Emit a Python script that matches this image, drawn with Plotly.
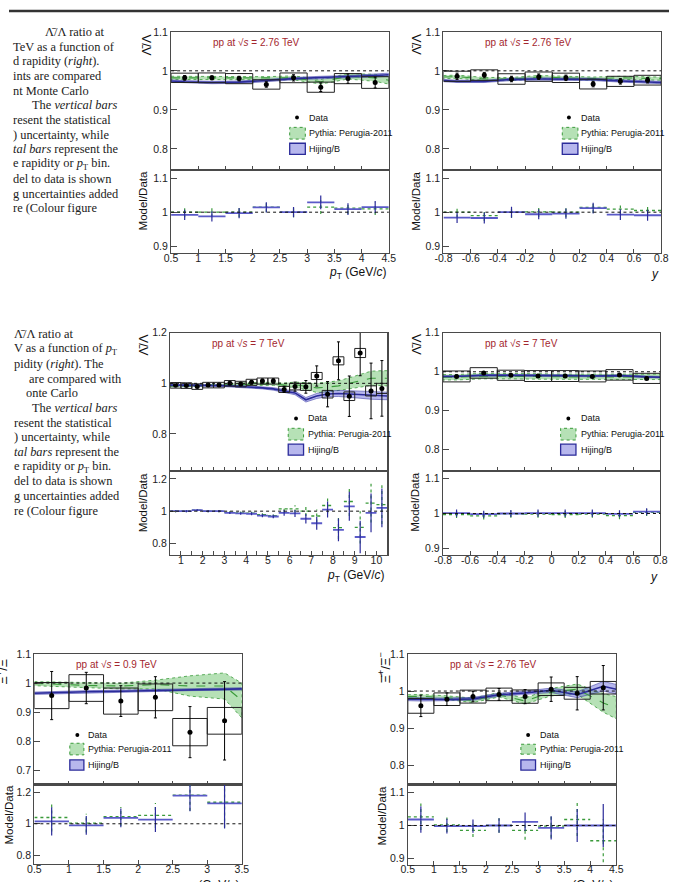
import plotly.graph_objects as go

W, H = 676, 882

# ---------------- data ----------------
# Panel A: anti-Lambda/Lambda vs pT, pp 2.76 TeV
A_edges = [0.5, 1.0, 1.5, 2.0, 2.5, 3.0, 3.5, 4.0, 4.5]
A_data = [0.982, 0.982, 0.980, 0.965, 0.982, 0.958, 0.980, 0.970]
A_stat = [0.006, 0.005, 0.006, 0.007, 0.008, 0.011, 0.012, 0.014]
A_sys = [0.012, 0.0125, 0.013, 0.012, 0.0125, 0.013, 0.013, 0.015]
A_mx = [0.5, 0.75, 1.25, 1.75, 2.25, 2.75, 3.25, 3.75, 4.25, 4.5]
A_py = [0.982, 0.982, 0.981, 0.981, 0.981, 0.982, 0.972, 0.986, 0.982, 0.976]
A_py_err = [0.004, 0.004, 0.004, 0.004, 0.004, 0.005, 0.006, 0.007, 0.009, 0.010]
A_hj = [0.974, 0.972, 0.970, 0.971, 0.975, 0.980, 0.983, 0.985, 0.988, 0.990]
A_hj_err = [0.003, 0.003, 0.003, 0.003, 0.003, 0.003, 0.003, 0.003, 0.004, 0.004]
A_r_hj = [0.992, 0.988, 0.997, 1.014, 1.000, 1.029, 1.009, 1.015]
A_r_py = [1.000, 1.000, 1.000, 1.015, 1.000, 1.015, 1.012, 1.010]
A_r_err = [0.015, 0.015, 0.015, 0.015, 0.015, 0.020, 0.017, 0.018]

# Panel B: anti-Lambda/Lambda vs y, pp 2.76 TeV
B_edges = [-0.8, -0.6, -0.4, -0.2, 0.0, 0.2, 0.4, 0.6, 0.8]
B_data = [0.986, 0.989, 0.979, 0.985, 0.982, 0.966, 0.973, 0.976]
B_stat = [0.008, 0.007, 0.007, 0.007, 0.007, 0.007, 0.007, 0.007]
B_sys = [0.013, 0.0135, 0.0135, 0.012, 0.012, 0.0125, 0.013, 0.0125]
B_mx = [-0.8, -0.7, -0.5, -0.3, -0.1, 0.1, 0.3, 0.5, 0.7, 0.8]
B_py = [0.984, 0.985, 0.979, 0.979, 0.984, 0.982, 0.980, 0.982, 0.981, 0.980]
B_py_err = [0.004, 0.004, 0.004, 0.004, 0.004, 0.004, 0.004, 0.004, 0.004, 0.004]
B_hj = [0.975, 0.973, 0.973, 0.978, 0.979, 0.979, 0.978, 0.974, 0.971, 0.970]
B_hj_err = [0.003, 0.003, 0.003, 0.003, 0.003, 0.003, 0.003, 0.003, 0.003, 0.003]
B_r_hj = [0.984, 0.983, 1.000, 0.994, 0.996, 1.012, 0.993, 0.991]
B_r_py = [1.000, 0.990, 1.000, 1.001, 1.000, 1.014, 1.009, 1.005]
B_r_err = [0.016, 0.016, 0.016, 0.015, 0.015, 0.016, 0.016, 0.016]

# Panel C: anti-Lambda/Lambda vs pT, pp 7 TeV
C_edges = [0.5, 1.0, 1.5, 2.0, 2.5, 3.0, 3.5, 4.0, 4.5, 5.0, 5.5,
           6.0, 6.5, 7.0, 7.5, 8.0, 8.5, 9.0, 9.5, 10.0, 10.5]
C_data = [0.992, 0.991, 0.987, 0.993, 0.993, 1.000, 0.997, 1.004, 1.009, 1.009,
          0.976, 0.987, 0.986, 1.029, 0.957, 1.089, 0.949, 1.120, 0.970, 0.980]
C_stat = [0.004, 0.004, 0.004, 0.004, 0.005, 0.005, 0.006, 0.007, 0.008, 0.009,
          0.012, 0.018, 0.025, 0.040, 0.050, 0.075, 0.080, 0.090, 0.110, 0.110]
C_sys = [0.011, 0.011, 0.011, 0.011, 0.011, 0.011, 0.011, 0.012, 0.012, 0.012,
         0.012, 0.013, 0.014, 0.014, 0.015, 0.016, 0.017, 0.018, 0.020, 0.020]
C_mx = [0.5, 0.75, 1.25, 1.75, 2.25, 2.75, 3.25, 3.75, 4.25, 4.75, 5.25, 5.75,
        6.25, 6.75, 7.25, 7.75, 8.25, 8.75, 9.25, 9.75, 10.25, 10.5]
C_py = [0.990, 0.990, 0.990, 0.991, 0.993, 0.994, 0.996, 0.997, 0.998, 0.998, 0.998,
        0.993, 0.995, 0.988, 0.982, 0.985, 0.990, 1.000, 1.010, 1.020, 1.020, 1.020]
C_py_err = [0.003, 0.003, 0.003, 0.003, 0.003, 0.004, 0.004, 0.005, 0.005, 0.006, 0.006,
            0.008, 0.010, 0.014, 0.018, 0.020, 0.020, 0.022, 0.025, 0.028, 0.030, 0.030]
C_hj = [0.993, 0.993, 0.993, 0.992, 0.992, 0.991, 0.990, 0.988, 0.985, 0.982, 0.978,
        0.970, 0.962, 0.935, 0.950, 0.958, 0.960, 0.958, 0.955, 0.952, 0.950, 0.950]
C_hj_err = [0.003, 0.003, 0.003, 0.003, 0.003, 0.003, 0.003, 0.004, 0.004, 0.004, 0.005,
            0.006, 0.007, 0.009, 0.010, 0.011, 0.012, 0.013, 0.014, 0.015, 0.015, 0.015]
C_r_hj = [1.000, 1.000, 1.006, 1.000, 1.000, 0.990, 0.986, 0.984, 0.973, 0.967,
          0.990, 0.986, 0.953, 0.925, 1.010, 0.884, 1.030, 0.840, 0.990, 1.020]
C_r_py = [1.000, 1.000, 1.006, 1.000, 1.000, 0.993, 0.990, 0.988, 0.978, 0.972,
          1.014, 1.014, 1.000, 0.970, 1.035, 0.898, 1.060, 0.900, 1.050, 1.040]
C_r_err = [0.006, 0.006, 0.006, 0.006, 0.007, 0.007, 0.008, 0.009, 0.010, 0.011,
           0.018, 0.022, 0.030, 0.040, 0.050, 0.070, 0.090, 0.100, 0.120, 0.120]

# Panel D: anti-Lambda/Lambda vs y, pp 7 TeV
D_edges = [-0.8, -0.6, -0.4, -0.2, 0.0, 0.2, 0.4, 0.6, 0.8]
D_data = [0.988, 0.997, 0.991, 0.989, 0.989, 0.988, 0.992, 0.983]
D_stat = [0.003, 0.003, 0.003, 0.003, 0.003, 0.003, 0.003, 0.003]
D_sys = [0.014, 0.0135, 0.013, 0.014, 0.014, 0.014, 0.0135, 0.013]
D_mx = [-0.8, -0.7, -0.5, -0.3, -0.1, 0.1, 0.3, 0.5, 0.7, 0.8]
D_py = [0.986, 0.986, 0.989, 0.989, 0.988, 0.987, 0.987, 0.987, 0.987, 0.987]
D_py_err = [0.007, 0.007, 0.007, 0.007, 0.007, 0.007, 0.007, 0.007, 0.007, 0.007]
D_hj = [0.988, 0.988, 0.991, 0.991, 0.990, 0.990, 0.989, 0.990, 0.987, 0.986]
D_hj_err = [0.002, 0.002, 0.002, 0.002, 0.002, 0.002, 0.002, 0.002, 0.002, 0.002]
D_r_hj = [1.001, 0.998, 1.000, 1.001, 1.001, 1.001, 0.999, 1.005]
D_r_py = [0.997, 0.993, 0.998, 0.998, 0.997, 0.998, 0.994, 1.003]
D_r_err = [0.010, 0.010, 0.010, 0.010, 0.010, 0.010, 0.010, 0.010]

# Panel E: Xi+/Xi- vs pT, pp 0.9 TeV
E_edges = [0.5, 1.0, 1.5, 2.0, 2.5, 3.0, 3.5]
E_data = [0.957, 0.983, 0.938, 0.951, 0.831, 0.870]
E_stat = [0.083, 0.054, 0.053, 0.071, 0.088, 0.135]
E_sys = [0.045, 0.046, 0.045, 0.046, 0.047, 0.046]
E_mx = [0.5, 0.75, 1.25, 1.75, 2.25, 2.75, 3.25, 3.5]
E_py = [0.998, 0.997, 0.992, 0.990, 0.995, 0.990, 0.990, 0.940]
E_py_err = [0.007, 0.007, 0.008, 0.010, 0.015, 0.035, 0.045, 0.060]
E_hj = [0.965, 0.967, 0.970, 0.972, 0.975, 0.978, 0.980, 0.980]
E_hj_err = [0.004, 0.004, 0.004, 0.004, 0.004, 0.004, 0.004, 0.004]
E_r_hj = [1.015, 0.990, 1.038, 1.027, 1.179, 1.130]
E_r_py = [1.040, 1.004, 1.046, 1.053, 1.183, 1.137]
E_r_err = [0.090, 0.060, 0.060, 0.080, 0.100, 0.160]

# Panel F: Xi+/Xi- vs pT, pp 2.76 TeV
F_edges = [0.5, 1.0, 1.5, 2.0, 2.5, 3.0, 3.5, 4.0, 4.5]
F_data = [0.960, 0.978, 0.985, 0.991, 0.985, 1.005, 0.994, 1.009]
F_stat = [0.029, 0.017, 0.014, 0.016, 0.019, 0.033, 0.045, 0.060]
F_sys = [0.020, 0.017, 0.0175, 0.017, 0.018, 0.017, 0.016, 0.017]
F_mx = [0.5, 0.75, 1.25, 1.75, 2.25, 2.75, 3.25, 3.75, 4.25, 4.5]
F_py = [0.985, 0.986, 0.982, 0.975, 0.990, 0.973, 0.997, 1.005, 0.968, 0.955]
F_py_err = [0.005, 0.005, 0.005, 0.006, 0.006, 0.008, 0.010, 0.014, 0.025, 0.030]
F_hj = [0.978, 0.977, 0.977, 0.979, 0.990, 0.995, 1.002, 0.990, 1.013, 1.005]
F_hj_err = [0.004, 0.004, 0.004, 0.004, 0.004, 0.005, 0.006, 0.008, 0.013, 0.013]
F_r_hj = [1.018, 0.998, 0.998, 1.000, 1.011, 0.993, 1.000, 1.000]
F_r_py = [1.026, 1.002, 0.985, 1.000, 0.985, 0.998, 1.018, 0.954]
F_r_err = [0.040, 0.022, 0.020, 0.022, 0.028, 0.035, 0.050, 0.065]

# tick labels
pt45_ticks = [0.5, 1, 1.5, 2, 2.5, 3, 3.5, 4, 4.5]
pt45_text = ["0.5", "1", "1.5", "2", "2.5", "3", "3.5", "4", "4.5"]
pt35_ticks = [0.5, 1, 1.5, 2, 2.5, 3, 3.5]
pt35_text = ["0.5", "1", "1.5", "2", "2.5", "3", "3.5"]
y_ticks = [-0.8, -0.6, -0.4, -0.2, 0, 0.2, 0.4, 0.6, 0.8]
y_text = ["-0.8", "-0.6", "-0.4", "-0.2", "0", "0.2", "0.4", "0.6", "0.8"]

energies = {"A": "2.76", "B": "2.76", "C": "7", "D": "7", "E": "0.9", "F": "2.76"}

caption1 = ["\u039b\u0304/\u039b ratio at", "TeV as a function of",
            "d rapidity (<i>right</i>).", "ints are compared", "nt Monte Carlo",
            "The <i>vertical bars</i>", "resent the statistical",
            ") uncertainty, while", "<i>tal bars</i> represent the",
            "e rapidity or <i>p</i><sub>T</sub> bin.", "del to data is shown",
            "g uncertainties added", "re (Colour figure"]
caption2 = ["\u039b\u0304/\u039b ratio at", "V as a function of <i>p</i><sub>T</sub>",
            "pidity (<i>right</i>). The", "are compared with", "onte Carlo",
            "The <i>vertical bars</i>", "resent the statistical",
            ") uncertainty, while", "<i>tal bars</i> represent the",
            "e rapidity or <i>p</i><sub>T</sub> bin.", "del to data is shown",
            "g uncertainties added", "re (Colour figure"]

# ---------------- styling / geometry ----------------
FONT = "Liberation Sans, Arial, sans-serif"
SERIF = "Liberation Serif, Times New Roman, serif"
AXC = "#4a4a4a"
BLUE_LINE = "#2b2b9a"
BLUE_SEG = "#5a5ac8"
BLUE_FILL = "rgba(95,95,215,0.45)"
GREEN_LINE = "#3a9a3a"
GREEN_FILL = "rgba(110,195,110,0.5)"
RED = "#a3262e"

LAM = "\u039b\u0304/\u039b"
XI = "\u039e\u0304<sup>+</sup>/\u039e<sup>\u2212</sup>"
PT = "<i>p</i><sub>T</sub> (GeV/<i>c</i>)"

panels = [
    dict(key="A", edges=A_edges, data=A_data, stat=A_stat, sys=A_sys, mx=A_mx,
         py=A_py, pye=A_py_err, hj=A_hj, hje=A_hj_err, rh=A_r_hj, rp=A_r_py, re=A_r_err,
         px=(166, 389), pm=(26, 165), pr=(165, 248.5), xr=(0.5, 4.5),
         ym=(0.746, 1.1), yr=(0.881, 1.124), ymt=[0.8, 0.9, 1, 1.1], yrt=[0.9, 1, 1.1],
         xt=pt45_ticks, xtt=pt45_text, ylab=LAM, xlab=PT, ylpos=(141, 39), rlpos=(137, 196),
         xlpos=(389, 269), leg=(129, 139.5, 121.5, 137.5, 86.3, 96.2, 108, 112.2, 123.3)),
    dict(key="B", edges=B_edges, data=B_data, stat=B_stat, sys=B_sys, mx=B_mx,
         py=B_py, pye=B_py_err, hj=B_hj, hje=B_hj_err, rh=B_r_hj, rp=B_r_py, re=B_r_err,
         px=(445, 668), pm=(26, 165), pr=(165, 248.5), xr=(-0.8, 0.8),
         ym=(0.746, 1.1), yr=(0.881, 1.124), ymt=[0.8, 0.9, 1, 1.1], yrt=[0.9, 1, 1.1],
         xt=y_ticks, xtt=y_text, ylab=LAM, xlab="<i>y</i>", ylpos=(418, 39), rlpos=(417, 197),
         xlpos=(668, 270), leg=(128.5, 139.3, 121.7, 137.7, 86.3, 96.2, 108, 112.2, 123.3)),
    dict(key="C", edges=C_edges, data=C_data, stat=C_stat, sys=C_sys, mx=C_mx,
         py=C_py, pye=C_py_err, hj=C_hj, hje=C_hj_err, rh=C_r_hj, rp=C_r_py, re=C_r_err,
         px=(165, 387.5), pm=(329, 468), pr=(468, 552.5), xr=(0.5, 10.5),
         ym=(0.654, 1.2), yr=(0.73, 1.25), ymt=[0.8, 1, 1.2], yrt=[0.8, 1, 1.2],
         xt=None, xtt=None, ylab=LAM, xlab=PT, ylpos=(138, 341), rlpos=(137, 500),
         xlpos=(387.5, 574), leg=(129, 139, 121, 136.7, 86.3, 96.2, 108, 112.2, 123.3)),
    dict(key="D", edges=D_edges, data=D_data, stat=D_stat, sys=D_sys, mx=D_mx,
         py=D_py, pye=D_py_err, hj=D_hj, hje=D_hj_err, rh=D_r_hj, rp=D_r_py, re=D_r_err,
         px=(444.5, 667), pm=(329, 468), pr=(468, 552.5), xr=(-0.8, 0.8),
         ym=(0.746, 1.1), yr=(0.883, 1.121), ymt=[0.8, 0.9, 1, 1.1], yrt=[0.9, 1, 1.1],
         xt=y_ticks, xtt=y_text, ylab=LAM, xlab="<i>y</i>", ylpos=(418, 341), rlpos=(415, 500),
         xlpos=(667, 575), leg=(128.4, 139, 120.5, 136.2, 86.3, 96.2, 108, 112.2, 123.3)),
    dict(key="E", edges=E_edges, data=E_data, stat=E_stat, sys=E_sys, mx=E_mx,
         py=E_py, pye=E_py_err, hj=E_hj, hje=E_hj_err, rh=E_r_hj, rp=E_r_py, re=E_r_err,
         px=(26, 238.5), pm=(652.5, 784), pr=(784, 864), xr=(0.5, 3.5),
         ym=(0.65, 1.1), yr=(0.743, 1.249), ymt=[0.7, 0.8, 0.9, 1, 1.1], yrt=[0.8, 1, 1.2],
         xt=pt35_ticks, xtt=pt35_text, ylab=XI, xlab=PT, ylpos=(-7, 668), rlpos=(0, 815),
         xlpos=(238.5, 886), leg=(44, 53, 36.3, 50.7, 81.5, 89.8, 101.5, 106.5, 116.8)),
    dict(key="F", edges=F_edges, data=F_data, stat=F_stat, sys=F_sys, mx=F_mx,
         py=F_py, pye=F_py_err, hj=F_hj, hje=F_hj_err, rh=F_r_hj, rp=F_r_py, re=F_r_err,
         px=(408.5, 622), pm=(652.5, 784), pr=(784, 864.5), xr=(0.5, 4.5),
         ym=(0.747, 1.1), yr=(0.882, 1.123), ymt=[0.8, 0.9, 1, 1.1], yrt=[0.9, 1, 1.1],
         xt=pt45_ticks, xtt=pt45_text, ylab=XI, xlab=PT, ylpos=(385, 666), rlpos=(382, 815),
         xlpos=(622, 886), leg=(123.2, 133.2, 115.8, 130.8, 81.5, 90.8, 100.8, 106.5, 116.8)),
]


def fx(px):
    return px / W


def fy(py):
    return 1 - py / H


def sfx(n):
    return "" if n == 1 else str(n)


fig = go.Figure()
shapes = []
annos = []
layout = {}

for k, p in enumerate(panels, start=1):
    nm, nr = 2 * k - 1, 2 * k
    xm, ymn = "x" + sfx(nm), "y" + sfx(nm)
    xrn, yrn = "x" + sfx(nr), "y" + sfx(nr)
    edges = p["edges"]
    nb = len(p["data"])
    cen = [(edges[i] + edges[i + 1]) / 2 for i in range(nb)]

    # --- model bands ---
    mx = p["mx"]
    for vals, errs, fill, lc, dash in [(p["py"], p["pye"], GREEN_FILL, GREEN_LINE, "dot"),
                                       (p["hj"], p["hje"], BLUE_FILL, BLUE_LINE, "solid")]:
        hi = [v + e for v, e in zip(vals, errs)]
        lo = [v - e for v, e in zip(vals, errs)]
        fig.add_trace(go.Scatter(x=mx + mx[::-1], y=hi + lo[::-1], fill="toself",
                                 fillcolor=fill, mode="lines",
                                 line=dict(color=lc, width=0.8 if dash == "dot" else 0.5, dash=dash),
                                 xaxis=xm, yaxis=ymn, hoverinfo="skip", showlegend=False))
    fig.add_trace(go.Scatter(x=mx, y=p["py"], mode="lines",
                             line=dict(color=GREEN_LINE, width=1.1, dash="dash"),
                             xaxis=xm, yaxis=ymn, hoverinfo="skip", showlegend=False))
    fig.add_trace(go.Scatter(x=mx, y=p["hj"], mode="lines",
                             line=dict(color=BLUE_LINE, width=1.6),
                             xaxis=xm, yaxis=ymn, hoverinfo="skip", showlegend=False))

    # --- systematic boxes ---
    bx, by = [], []
    for i in range(nb):
        x0, x1 = edges[i], edges[i + 1]
        lo, hi = p["data"][i] - p["sys"][i], p["data"][i] + p["sys"][i]
        bx += [x0, x1, x1, x0, x0, None]
        by += [lo, lo, hi, hi, lo, None]
    fig.add_trace(go.Scatter(x=bx, y=by, mode="lines", line=dict(color="#222", width=1),
                             xaxis=xm, yaxis=ymn, hoverinfo="skip", showlegend=False))

    # --- data points ---
    fig.add_trace(go.Scatter(x=cen, y=p["data"], mode="markers",
                             marker=dict(color="black", size=5),
                             error_y=dict(type="data", array=p["stat"], color="black",
                                          thickness=1, width=1.5),
                             xaxis=xm, yaxis=ymn, hoverinfo="skip", showlegend=False))

    # --- ratio panel ---
    for vals, col, hcol, dash, hw in [(p["rp"], GREEN_LINE, GREEN_LINE, "dot", 1.3),
                                      (p["rh"], BLUE_LINE, BLUE_SEG, "solid", 1.8)]:
        hx, hy, vx, vy = [], [], [], []
        for i in range(nb):
            hx += [edges[i], edges[i + 1], None]
            hy += [vals[i], vals[i], None]
            vx += [cen[i], cen[i], None]
            vy += [vals[i] - p["re"][i], vals[i] + p["re"][i], None]
        fig.add_trace(go.Scatter(x=hx, y=hy, mode="lines", line=dict(color=hcol, width=hw, dash=dash),
                                 xaxis=xrn, yaxis=yrn, hoverinfo="skip", showlegend=False))
        fig.add_trace(go.Scatter(x=vx, y=vy, mode="lines",
                                 line=dict(color=col, width=1.2, dash=dash),
                                 xaxis=xrn, yaxis=yrn, hoverinfo="skip", showlegend=False))

    # --- axes ---
    xd = [fx(p["px"][0]), fx(p["px"][1])]
    common = dict(showline=True, mirror=True, linecolor=AXC, linewidth=1.2, showgrid=False,
                  zeroline=False, ticks="inside", tickcolor=AXC, tickwidth=1,
                  tickfont=dict(family=FONT, size=10.5, color="#222"))
    if p["xt"] is None:
        xt = dict(tickmode="linear", tick0=1, dtick=1,
                  minor=dict(dtick=0.5, tick0=0.5, ticks="inside", ticklen=4, tickcolor=AXC))
    else:
        xt = dict(tickmode="array", tickvals=p["xt"], ticktext=p["xtt"])
    layout["xaxis" + sfx(nm)] = dict(domain=xd, range=list(p["xr"]), anchor=ymn,
                                     showticklabels=False, ticklen=4, **xt, **common)
    layout["xaxis" + sfx(nr)] = dict(domain=xd, range=list(p["xr"]), anchor=yrn,
                                     showticklabels=True, ticklen=4, ticklabelstandoff=-5,
                                     **xt, **common)
    layout["yaxis" + sfx(nm)] = dict(domain=[fy(p["pm"][1]), fy(p["pm"][0])], range=list(p["ym"]),
                                     anchor=xm, tickmode="array", tickvals=p["ymt"],
                                     ticktext=["%g" % v for v in p["ymt"]], ticklen=6, **common)
    layout["yaxis" + sfx(nr)] = dict(domain=[fy(p["pr"][1]), fy(p["pr"][0])], range=list(p["yr"]),
                                     anchor=xrn, tickmode="array", tickvals=p["yrt"],
                                     ticktext=["%g" % v for v in p["yrt"]], ticklen=6, **common)

    # unity dotted lines
    for xa, ya in [(xm, ymn), (xrn, yrn)]:
        shapes.append(dict(type="line", xref=xa + " domain", yref=ya, x0=0, x1=1, y0=1, y1=1,
                           line=dict(color="#111", width=1, dash="dot"), layer="above"))

    # labels
    annos.append(dict(x=fx(p["ylpos"][0]), y=fy(p["ylpos"][1]), xref="paper", yref="paper",
                      text=p["ylab"], textangle=-90, showarrow=False,
                      font=dict(family=FONT, size=13, color="#111"),
                      xanchor="center", yanchor="middle"))
    annos.append(dict(x=fx(p["rlpos"][0]), y=fy(p["rlpos"][1]), xref="paper", yref="paper",
                      text="Model/Data", textangle=-90, showarrow=False,
                      font=dict(family=FONT, size=11.5, color="#111"),
                      xanchor="center", yanchor="middle"))
    annos.append(dict(x=fx(p["xlpos"][0]), y=fy(p["xlpos"][1]), xref="paper", yref="paper",
                      text=p["xlab"], showarrow=False,
                      font=dict(family=FONT, size=12, color="#111"),
                      xanchor="right", yanchor="middle"))
    left, top = p["px"][0], p["pm"][0]
    annos.append(dict(x=fx(left + 41), y=fy(top + 11), xref="paper", yref="paper",
                      text="pp at \u221a<i>s</i> = %s TeV" % energies[p["key"]], showarrow=False,
                      font=dict(family=FONT, size=10, color=RED),
                      xanchor="left", yanchor="middle"))

    # legend
    mdx, tdx, bx0, bx1, dy_d, g0, g1, b0, b1 = p["leg"]
    shapes.append(dict(type="circle", xref="paper", yref="paper",
                       x0=fx(left + mdx - 2), x1=fx(left + mdx + 2),
                       y0=fy(top + dy_d + 2), y1=fy(top + dy_d - 2),
                       fillcolor="black", line=dict(width=0)))
    shapes.append(dict(type="rect", xref="paper", yref="paper",
                       x0=fx(left + bx0), x1=fx(left + bx1), y0=fy(top + g1), y1=fy(top + g0),
                       fillcolor=GREEN_FILL, line=dict(color=GREEN_LINE, width=1, dash="dot")))
    shapes.append(dict(type="rect", xref="paper", yref="paper",
                       x0=fx(left + bx0), x1=fx(left + bx1), y0=fy(top + b1), y1=fy(top + b0),
                       fillcolor=BLUE_FILL, line=dict(color=BLUE_LINE, width=1.3)))
    for txt, yy in [("Data", dy_d), ("Pythia: Perugia-2011", (g0 + g1) / 2),
                    ("Hijing/B", (b0 + b1) / 2)]:
        annos.append(dict(x=fx(left + tdx), y=fy(top + yy), xref="paper", yref="paper",
                          text=txt, showarrow=False, xanchor="left", yanchor="middle",
                          font=dict(family=FONT, size=9, color="#111")))

# captions
for i, line in enumerate(caption1):
    x0 = 35 if i == 0 else (22 if i == 5 else 2)
    annos.append(dict(x=fx(x0), y=fy(26 + 14.8 * i), xref="paper", yref="paper", text=line,
                      showarrow=False, xanchor="left", yanchor="middle",
                      font=dict(family=SERIF, size=12.4, color="#222")))
cap2_x = [3, 3, 3, 18, 15, 22, 3, 3, 3, 3, 3, 3, 3]
for i, line in enumerate(caption2):
    annos.append(dict(x=fx(cap2_x[i]), y=fy(330.7 + 14.8 * i), xref="paper", yref="paper",
                      text=line, showarrow=False, xanchor="left", yanchor="middle",
                      font=dict(family=SERIF, size=12.4, color="#222")))

# page header rule
shapes.append(dict(type="line", xref="paper", yref="paper", x0=0, x1=1, y0=fy(5), y1=fy(5),
                   line=dict(color="#333", width=2.5)))

fig.update_layout(width=W, height=H, margin=dict(l=0, r=0, t=0, b=0),
                  paper_bgcolor="white", plot_bgcolor="white", showlegend=False,
                  shapes=shapes, annotations=annos, **layout)
fig.write_html("out.html",
               config={"displayModeBar": False, "staticPlot": True},
               post_script="document.body.style.margin='0px';"
                           "document.body.style.padding='0px';"
                           "document.body.style.overflow='hidden';")
